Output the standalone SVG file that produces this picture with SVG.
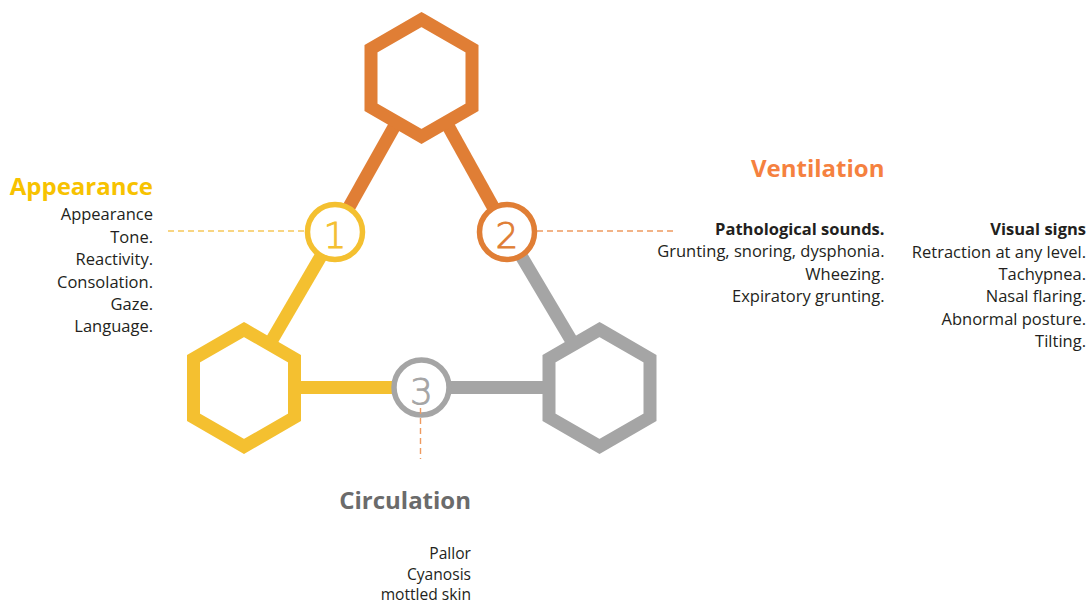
<svg xmlns="http://www.w3.org/2000/svg" width="1088" height="604" viewBox="0 0 1088 604">
<style>
.hex{fill:#fff;stroke-width:13;stroke-linejoin:miter}
.con{stroke-width:13;fill:none}
.num-c{fill:#fff;stroke-width:5.5}
.num{font-family:"DejaVu Sans",sans-serif;font-weight:200;font-size:36px;text-anchor:middle;stroke-width:0.9}
.dash{fill:none;stroke-width:1.4;stroke-dasharray:6 4}
.title{font-family:"Open Sans","Liberation Sans",sans-serif;font-weight:700;font-size:24px;text-anchor:end}
.body{font-family:"Open Sans","Liberation Sans",sans-serif;font-size:16.5px;fill:#231f20;text-anchor:end}
.small{font-size:15.6px}
.bold{font-weight:700}
.o{stroke:#e07e35}.y{stroke:#f4c030}.g{stroke:#a5a5a5}
</style>
<rect width="1088" height="604" fill="#fff"/>
<g id="connectors">
<line class="con o" x1="421.5" y1="78" x2="335" y2="232"/>
<line class="con y" x1="335" y1="232" x2="244" y2="388"/>
<line class="con o" x1="421.5" y1="78" x2="507" y2="232"/>
<line class="con g" x1="507" y1="232" x2="599.5" y2="388"/>
<line class="con y" x1="244" y1="387.5" x2="421" y2="387.5"/>
<line class="con g" x1="421" y1="387.5" x2="599.5" y2="387.5"/>
<line class="dash" stroke="#f6c85a" x1="168" y1="231" x2="305" y2="231"/>
<line class="dash" stroke="#ee9a60" x1="537" y1="231" x2="675" y2="231"/>
</g>
<g id="hex-top">
<polygon class="hex o" points="421.5,19.5 472,48.7 472,107.3 421.5,136.5 371,107.3 371,48.7"/>
</g>
<g id="hex-left">
<polygon class="hex y" points="244,329.5 294.5,358.7 294.5,417.3 244,446.5 193.5,417.3 193.5,358.7"/>
</g>
<g id="hex-right">
<polygon class="hex g" points="599.5,329.5 650,358.7 650,417.3 599.5,446.5 549,417.3 549,358.7"/>
</g>
<g id="node-1">
<circle class="num-c y" cx="335" cy="232" r="27.5"/>
<text class="num" x="335" y="248" fill="#f4c030" stroke="#f4c030">1</text>
</g>
<g id="node-2">
<circle class="num-c o" cx="507" cy="232" r="27.5"/>
<text class="num" x="507" y="248" fill="#e07e35" stroke="#e07e35">2</text>
</g>
<g id="node-3">
<circle class="num-c g" cx="421.5" cy="387.5" r="27.5"/>
<text class="num" x="421.5" y="403.5" fill="#a5a5a5" stroke="#a5a5a5">3</text>
<line class="dash" stroke="#ee9a60" x1="420.5" y1="408" x2="420.5" y2="459"/>
</g>
<g id="appearance">
<text class="title" x="153" y="195" fill="#f7c200">Appearance</text>
<text class="body" x="153" y="220">Appearance</text>
<text class="body" x="153" y="242.5">Tone.</text>
<text class="body" x="153" y="265">Reactivity.</text>
<text class="body" x="153" y="287.5">Consolation.</text>
<text class="body" x="153" y="310">Gaze.</text>
<text class="body" x="153" y="332">Language.</text>
</g>
<g id="ventilation">
<text class="title" x="884.5" y="176.5" fill="#f5813f">Ventilation</text>
<text class="body bold" x="884.5" y="235">Pathological sounds.</text>
<text class="body" x="884.5" y="257">Grunting, snoring, dysphonia.</text>
<text class="body" x="884.5" y="279.5">Wheezing.</text>
<text class="body" x="884.5" y="302">Expiratory grunting.</text>
<text class="body bold" x="1086" y="235">Visual signs</text>
<text class="body" x="1086" y="257.5">Retraction at any level.</text>
<text class="body" x="1086" y="280">Tachypnea.</text>
<text class="body" x="1086" y="302">Nasal flaring.</text>
<text class="body" x="1086" y="324.5">Abnormal posture.</text>
<text class="body" x="1086" y="347">Tilting.</text>
</g>
<g id="circulation">
<text class="title" x="471" y="509" fill="#6b6b6b">Circulation</text>
<text class="body small" x="471" y="559">Pallor</text>
<text class="body small" x="471" y="580">Cyanosis</text>
<text class="body small" x="471" y="600">mottled skin</text>
</g>
</svg>
